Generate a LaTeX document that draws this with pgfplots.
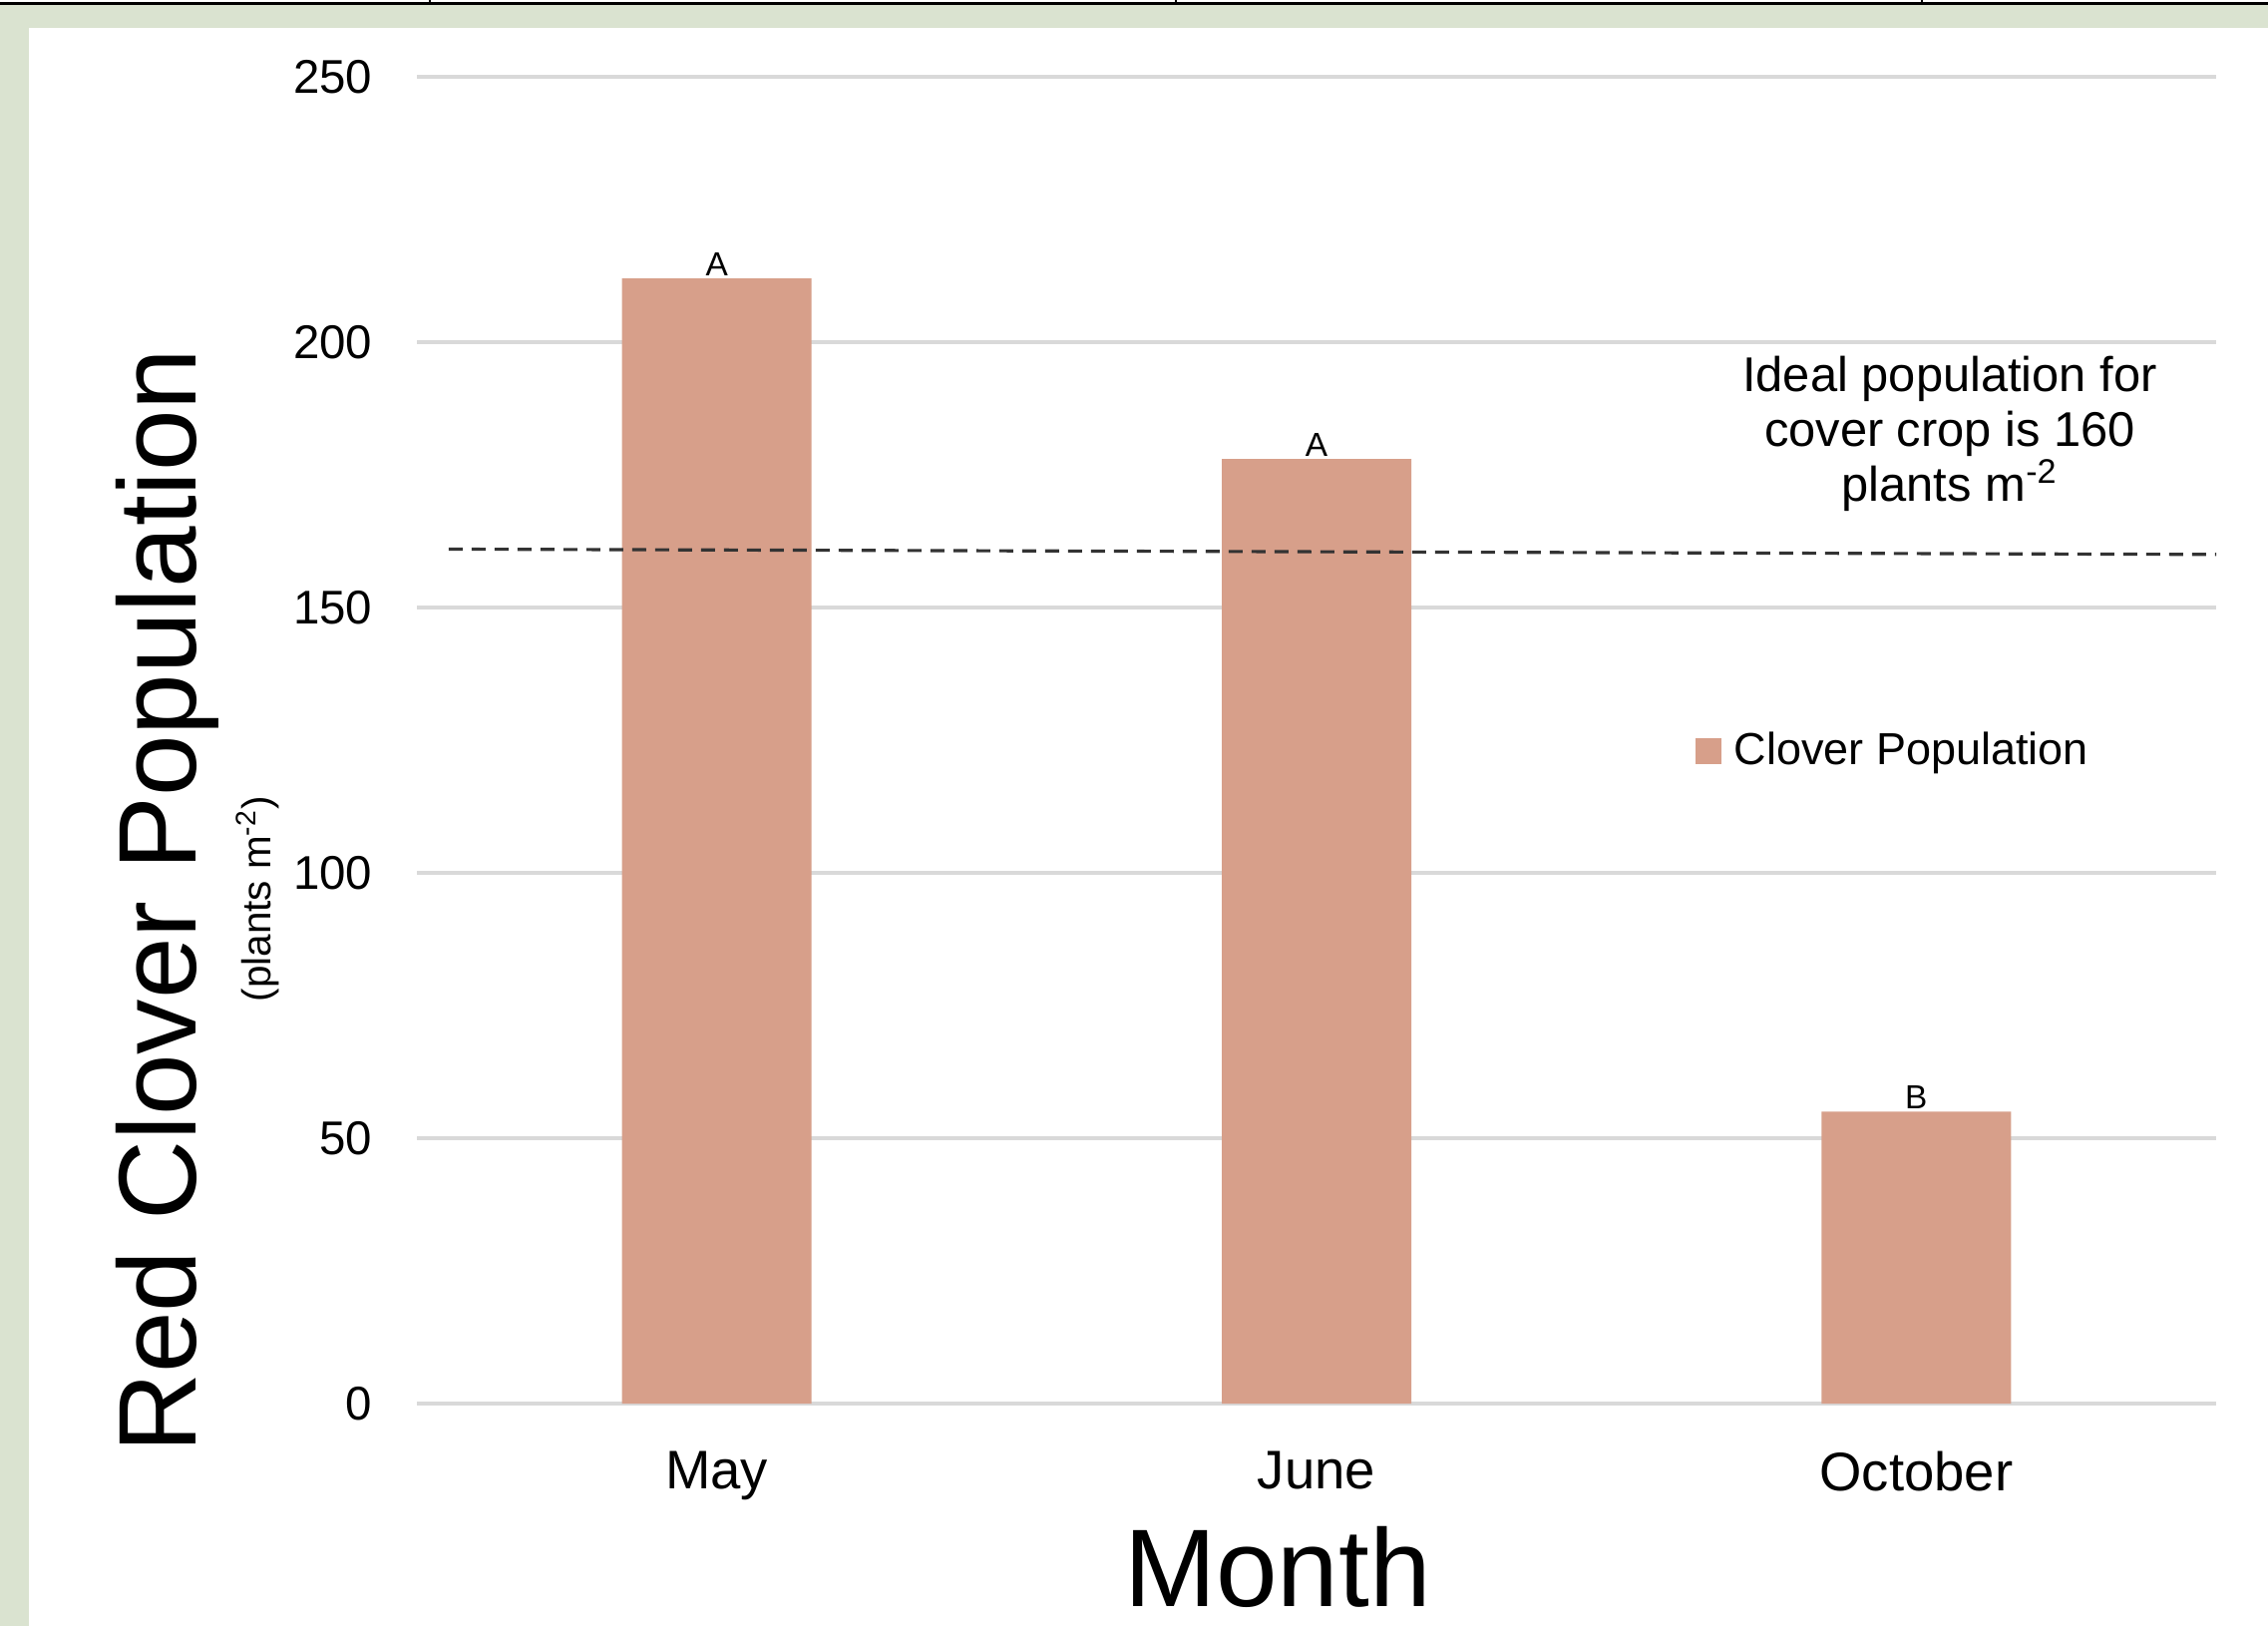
\documentclass[border=0pt]{standalone}
\usepackage{fontspec}
\setmainfont{Liberation Sans}
\usepackage{pgfplots}
\pgfplotsset{compat=1.18}

\definecolor{barfill}{HTML}{D79F8A}
\definecolor{framegreen}{HTML}{DAE3D0}
\definecolor{gridgray}{HTML}{D9D9D9}

\begin{document}
\begin{tikzpicture}
% page frame: 1 px of the reference = 0.1 mm
\path[use as bounding box] (0,0) rectangle (227.4mm,163mm);
\fill[framegreen] (0,0) rectangle (227.4mm,163mm);
\fill[white] (2.9mm,0) rectangle (227.4mm,160.2mm);
\fill[white] (0,162.5mm) rectangle (227.4mm,163mm);
\fill[black] (0,162.45mm) rectangle (227.4mm,162.75mm);
\foreach \tx in {43.1,117.9,192.7} \draw[black, line width=0.2mm] (\tx mm,162.5mm) -- (\tx mm,163mm);

\begin{axis}[
    at={(41.8mm,22.3mm)}, anchor=south west,
    scale only axis, width=180.4mm, height=133mm,
    ybar, bar width=19mm,
    xmin=-0.5, xmax=2.5, ymin=0, ymax=250,
    xtick={0,1,2}, xticklabels={May,June,October},
    ytick={0,50,...,250},
    ymajorgrids, major grid style={gridgray, line width=1pt},
    axis line style={draw=none}, major tick length=0pt,
    /pgf/number format/assume math mode=true,
    yticklabel style={font=\fontsize{13.5}{16}\selectfont, anchor=east, inner sep=0pt, xshift=-4.4mm},
    xticklabel style={font=\fontsize{15.5}{18}\selectfont, anchor=north, inner sep=0pt, yshift=-4.7mm},
    clip=false,
    legend style={draw=none, fill=none, at={(0.710,0.4917)}, anchor=west, inner sep=0pt,
      font=\fontsize{12.8}{15}\selectfont},
    legend image code/.code={\fill[#1] (0mm,-1.3mm) rectangle (2.6mm,1.3mm);},
    ]
\addplot[fill=barfill, draw=none, nodes near coords, point meta=explicit symbolic,
  every node near coord/.append style={font=\fontsize{9.5}{11}\selectfont, anchor=south, inner sep=0.6pt}]
  coordinates {(0,212) [A] (1,178) [A] (2,55) [B]};
\addlegendentry{\hspace{0.6mm}Clover Population}
\addplot[forget plot, sharp plot, black!80, line width=0.9pt, dash pattern=on 1.4mm off 0.9mm]
  coordinates {(-0.447,161) (2.5,160)};
\node[align=center, font=\fontsize{13.9}{15.6}\selectfont] at (axis cs:2.056,182.7)
  {Ideal population for\\cover crop is 160\\plants m\textsuperscript{-2}};
\end{axis}

\node[rotate=90, font=\fontsize{31.5}{36}\selectfont] at (16.8mm,72.7mm) {Red Clover Population};
\node[rotate=90, font=\fontsize{11.5}{13}\selectfont] at (25.8mm,72.9mm) {(plants m\textsuperscript{-2})};
\node[anchor=base, font=\fontsize{31.5}{36}\selectfont] at (128.1mm,2.0mm) {Month};
\end{tikzpicture}
\end{document}
